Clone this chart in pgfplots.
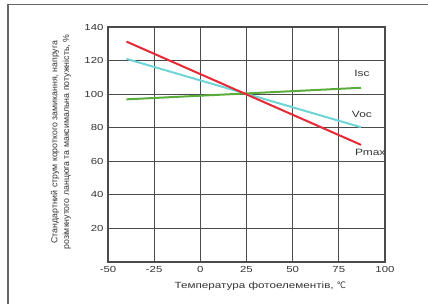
\documentclass[border=0pt]{standalone}
\usepackage{pgfplots}
\pgfplotsset{compat=1.18}
\usepackage{fontspec}
\setmainfont{Liberation Sans}[FakeStretch=1.3]
\newfontfamily\ylabfont{Liberation Sans}
\newfontfamily\symfont{DejaVu Sans}
\definecolor{cred}{RGB}{232,40,52}
\definecolor{ccyan}{RGB}{110,212,214}
\definecolor{cgreen}{RGB}{90,172,60}
\definecolor{cgrid}{RGB}{75,75,75}
\begin{document}
\begin{tikzpicture}
\path[use as bounding box] (-108bp,-42bp) rectangle (320bp,262bp);
\draw[line width=1.4bp, color=black!60] (-100bp,-60bp) -- (-100bp,257.5bp) -- (340bp,257.5bp);
\begin{axis}[
  at={(0,0)}, anchor=south west,
  scale only axis, width=277bp, height=235bp,
  xmin=-50, xmax=100, ymin=0, ymax=140,
  xtick={-50,-25,0,25,50,75,100},
  ytick={20,40,60,80,100,120,140},
  grid=major,
  major grid style={color=cgrid, line width=1.2bp},
  axis line style={color=cgrid, line width=1.4bp},
  major tick length=0pt,
  tick label style={font=\fontsize{8.8}{10}\selectfont, color=black!80},
  /pgf/number format/assume math mode=true,
  xticklabel style={yshift=-1bp},
  yticklabel style={xshift=-1bp},
  xlabel={Температура фотоелементів, {\symfont\addfontfeatures{FakeStretch=0.9}℃}},
  xlabel style={at={(axis description cs:0.55,0)}, anchor=center, yshift=-24bp, font=\fontsize{9}{11}\selectfont, color=black!80},
  ylabel={},
  clip=false,
]
\addplot[color=ccyan, line width=2bp] coordinates {(-40,121) (87,80.3)};
\addplot[color=cgreen, line width=2bp] coordinates {(-40,96.9) (87,103.8)};
\addplot[color=cred, line width=2bp] coordinates {(-40,131.3) (87,69.8)};
\node[font=\fontsize{9.2}{11}\selectfont, color=black!80] at (axis cs:87.5,112.6) {Isc};
\node[font=\fontsize{9.2}{11}\selectfont, color=black!80] at (axis cs:87.5,87.8) {Voc};
\node[font=\fontsize{9.2}{11}\selectfont, color=black!80] at (axis cs:92,65.5) {Pmax};
\node[rotate=90, align=center, font=\ylabfont\fontsize{8.8}{12}\selectfont, color=black!80] at (axis description cs:-0.17,0.51)
  {Стандартний струм короткого замикання, напруга\\розімкнутого ланцюга та максимальна потужність, \%};
\end{axis}
\end{tikzpicture}
\end{document}
